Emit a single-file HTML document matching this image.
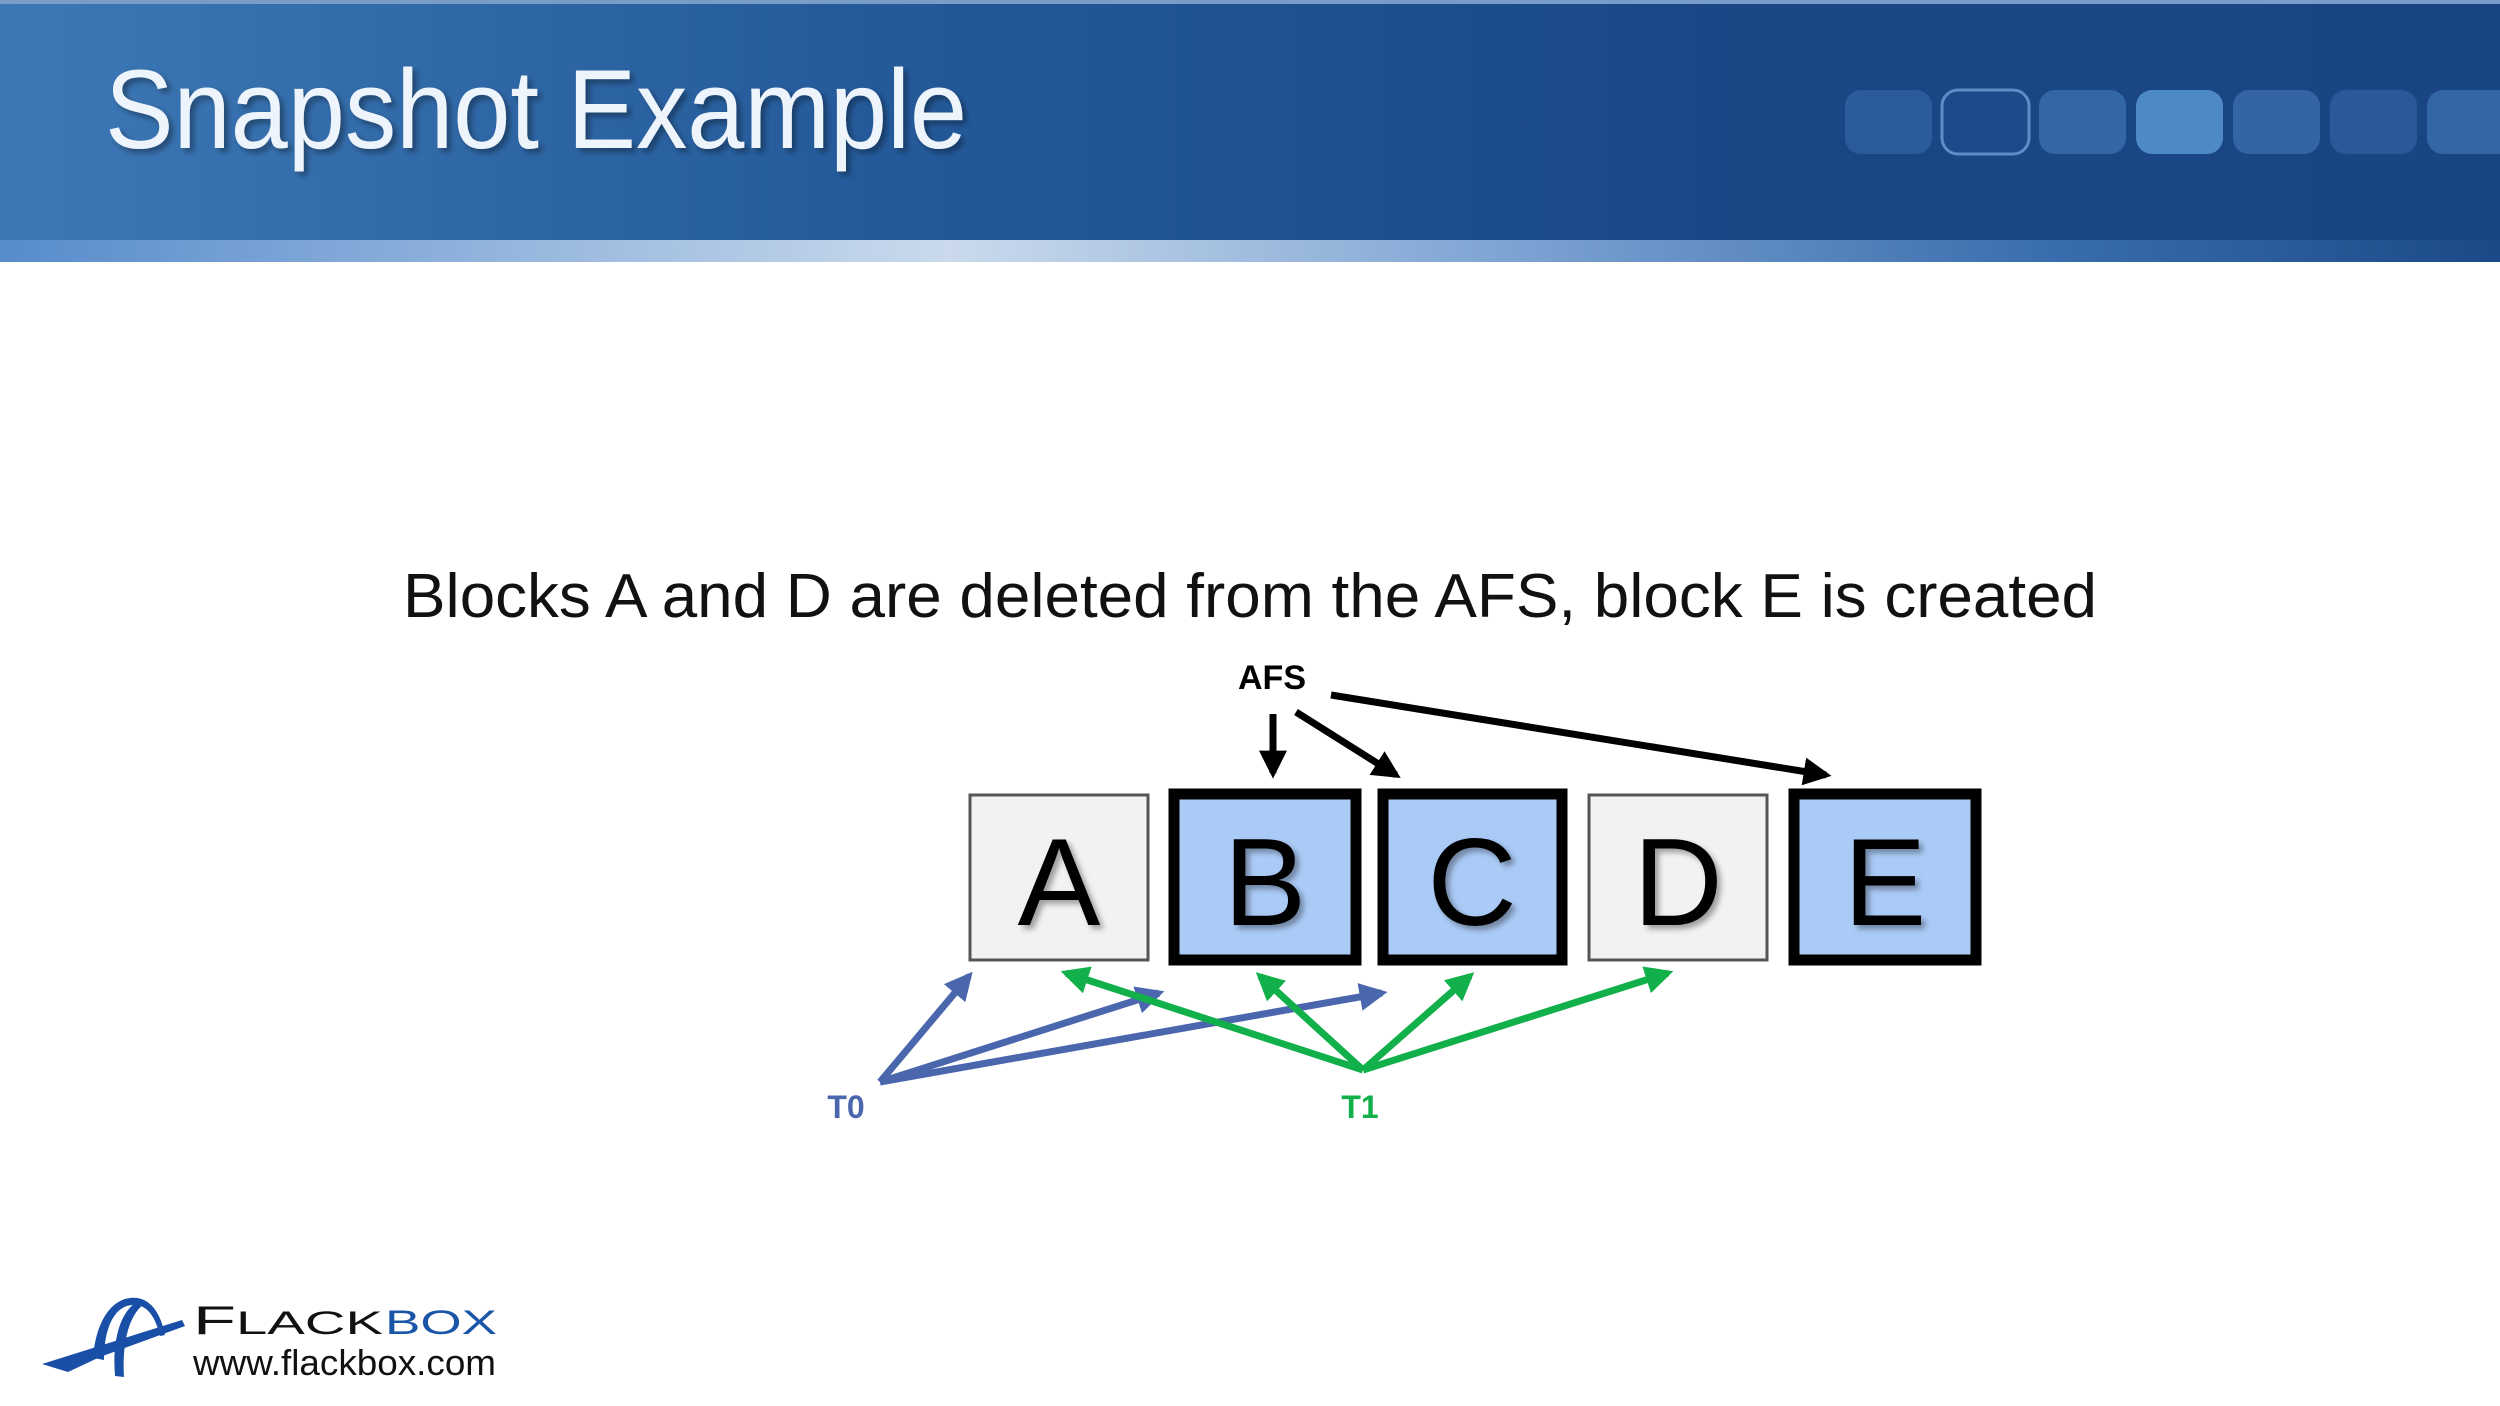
<!DOCTYPE html>
<html><head><meta charset="utf-8"><style>
html,body{margin:0;padding:0;background:#fff;}
body{width:2500px;height:1406px;overflow:hidden;position:relative;}
svg{position:absolute;left:0;top:0;}
</style></head><body>
<svg width="2500" height="1406" viewBox="0 0 2500 1406" xmlns="http://www.w3.org/2000/svg">
<defs>
<linearGradient id="hdr" x1="0" y1="0" x2="1" y2="0">
<stop offset="0" stop-color="#3d78b6"/><stop offset="0.35" stop-color="#245a9a"/><stop offset="0.7" stop-color="#1a4686"/><stop offset="1" stop-color="#1a4585"/>
</linearGradient>
<linearGradient id="strip" x1="0" y1="0" x2="1" y2="0">
<stop offset="0" stop-color="#5b8fd0"/><stop offset="0.38" stop-color="#e8f1fb"/><stop offset="0.6" stop-color="#8fb4e0"/><stop offset="0.82" stop-color="#3f74b5"/><stop offset="1" stop-color="#1c4a88"/>
</linearGradient>
<filter id="sh" x="-10%" y="-10%" width="130%" height="130%"><feDropShadow dx="4" dy="4" stdDeviation="3" flood-color="#000" flood-opacity="0.35"/></filter>
<marker id="mk" viewBox="0 0 10 10" refX="8" refY="5" markerWidth="4" markerHeight="4" orient="auto"><path d="M0,0 L10,5 L0,10 z" fill="#000"/></marker>
<marker id="mb" viewBox="0 0 10 10" refX="8" refY="5" markerWidth="4" markerHeight="4" orient="auto"><path d="M0,0 L10,5 L0,10 z" fill="#4a66ad"/></marker>
<marker id="mg" viewBox="0 0 10 10" refX="8" refY="5" markerWidth="4" markerHeight="4" orient="auto"><path d="M0,0 L10,5 L0,10 z" fill="#12b04a"/></marker>
</defs>
<rect x="0" y="0" width="2500" height="262" fill="url(#hdr)"/>
<rect x="0" y="0" width="2500" height="4" fill="#7a9cc8"/>
<rect x="0" y="240" width="2500" height="22" fill="url(#strip)" opacity="0.85"/>
<g>
<rect x="1845" y="90" width="87" height="64" rx="16" fill="#2c5b9c"/>
<rect x="1942" y="90" width="87" height="64" rx="16" fill="#1d4a8a" stroke="#5d8cc6" stroke-width="3"/>
<rect x="2039" y="90" width="87" height="64" rx="16" fill="#3466a6"/>
<rect x="2136" y="90" width="87" height="64" rx="16" fill="#4d89c6"/>
<rect x="2233" y="90" width="87" height="64" rx="16" fill="#3464a4"/>
<rect x="2330" y="90" width="87" height="64" rx="16" fill="#2a5898"/>
<rect x="2427" y="90" width="87" height="64" rx="16" fill="#3466a6"/>
</g>
<text x="105" y="148" font-family="Liberation Sans, sans-serif" font-size="112" fill="#eef4fb" textLength="862" lengthAdjust="spacingAndGlyphs" filter="url(#sh)">Snapshot Example</text>

<text x="403" y="617" font-family="Liberation Sans, sans-serif" font-size="62" fill="#111" textLength="1694" lengthAdjust="spacingAndGlyphs">Blocks A and D are deleted from the AFS, block E is created</text>

<rect x="970" y="795" width="178" height="165" fill="#f2f2f2" stroke="#555" stroke-width="3"/>
<rect x="1174" y="794" width="182" height="166" fill="#abcbf7" stroke="#000" stroke-width="11"/>
<rect x="1383" y="794" width="179" height="166" fill="#abcbf7" stroke="#000" stroke-width="11"/>
<rect x="1589" y="795" width="178" height="165" fill="#f2f2f2" stroke="#555" stroke-width="3"/>
<rect x="1794" y="794" width="182" height="166" fill="#abcbf7" stroke="#000" stroke-width="11"/>
<g font-family="Liberation Sans, sans-serif" font-size="124" fill="#000" text-anchor="middle" filter="url(#sh)">
<text x="1059" y="925">A</text>
<text x="1265" y="925">B</text>
<text x="1472" y="925">C</text>
<text x="1678" y="925">D</text>
<text x="1885" y="925">E</text>
</g>

<text x="1272" y="689" font-family="Liberation Sans, sans-serif" font-weight="bold" font-size="34" text-anchor="middle" fill="#000">AFS</text>
<g stroke="#000" stroke-width="7" fill="none">
<line x1="1273" y1="714" x2="1273" y2="773" marker-end="url(#mk)"/>
<line x1="1296" y1="712" x2="1396" y2="775" marker-end="url(#mk)"/>
<line x1="1331" y1="695" x2="1826" y2="775" marker-end="url(#mk)"/>
</g>

<g stroke="#4a66ad" stroke-width="7" fill="none">
<line x1="880" y1="1082" x2="969" y2="976" marker-end="url(#mb)"/>
<line x1="880" y1="1082" x2="1159" y2="993" marker-end="url(#mb)"/>
<line x1="880" y1="1082" x2="1382" y2="993" marker-end="url(#mb)"/>
</g>
<text x="846" y="1118" font-family="Liberation Sans, sans-serif" font-weight="bold" font-size="32" text-anchor="middle" fill="#4a66ad">T0</text>
<g stroke="#12b04a" stroke-width="7" fill="none">
<line x1="1363" y1="1070" x2="1066" y2="973" marker-end="url(#mg)"/>
<line x1="1363" y1="1070" x2="1260" y2="976" marker-end="url(#mg)"/>
<line x1="1363" y1="1070" x2="1470" y2="976" marker-end="url(#mg)"/>
<line x1="1363" y1="1070" x2="1668" y2="973" marker-end="url(#mg)"/>
</g>
<text x="1360" y="1118" font-family="Liberation Sans, sans-serif" font-weight="bold" font-size="32" text-anchor="middle" fill="#12b04a">T1</text>

<g fill="#1a4fa8">
<path d="M42 1364 L182 1320 L185 1326 L100 1357 L68 1372 Z"/>
<path d="M93 1358 C96 1320 112 1300 130 1298 C148 1296 160 1310 165 1335 L160 1336 C155 1315 146 1304 132 1305 C116 1306 104 1325 104 1360 Z"/>
<path d="M115 1376 C112 1340 120 1310 140 1300 L144 1304 C128 1316 122 1345 124 1377 Z"/>
</g>
<text x="193" y="1334" font-family="Liberation Sans, sans-serif" font-size="40" fill="#111" textLength="190" lengthAdjust="spacingAndGlyphs">F<tspan font-size="32">LACK</tspan></text>
<text x="385" y="1334" font-family="Liberation Sans, sans-serif" font-size="34" fill="#1a55a8" textLength="112" lengthAdjust="spacingAndGlyphs">BOX</text>
<text x="193" y="1375" font-family="Liberation Sans, sans-serif" font-size="36" fill="#111" textLength="303" lengthAdjust="spacingAndGlyphs">www.flackbox.com</text>
</svg>
</body></html>
